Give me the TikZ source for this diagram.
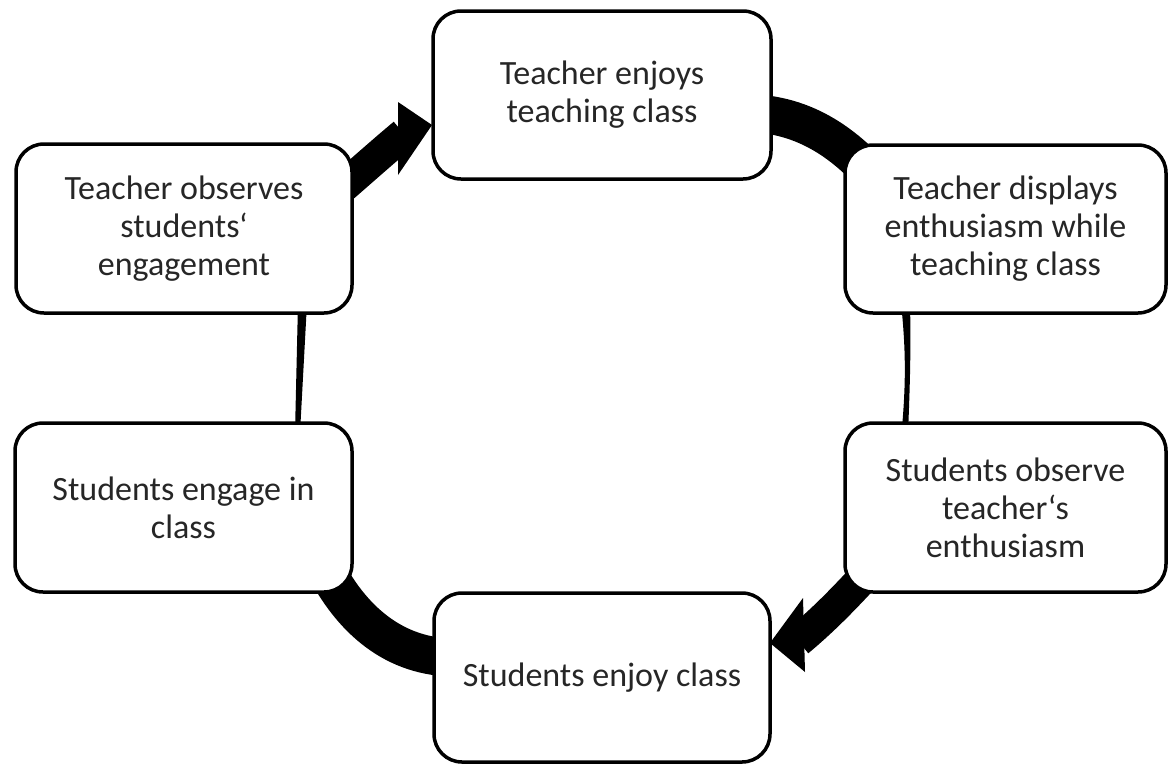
\documentclass[tikz,border=0pt]{standalone}
\usepackage{fontspec}
\setmainfont{Carlito}
\usetikzlibrary{backgrounds}
\definecolor{txt}{RGB}{38,38,38}
\begin{document}
\begin{tikzpicture}[x=1pt,y=-1pt,
  box/.style={draw=black, line width=3.5pt, fill=white, rounded corners=28pt,
    minimum height=168pt, align=center, inner sep=0pt, outer sep=0pt,
    font=\fontsize{34}{38}\selectfont, text=txt},
  band/.style={line width=38pt, draw=black},
  shaft/.style={line width=32pt, draw=black},
  arrowhead/.style={fill=black},
  thinlink/.style={fill=black}]
\useasboundingbox (0,0) rectangle (1168,764);

\node[box, minimum width=338pt] (top) at (602,95) {Teacher enjoys\\teaching class};
\node[box, minimum width=321pt] (ru) at (1005.5,229) {Teacher displays\\enthusiasm while\\teaching class};
\node[box, minimum width=321pt, minimum height=169pt] (rl) at (1005.5,507.5) {Students observe\\teacher‘s\\enthusiasm};
\node[box, minimum width=336pt, minimum height=169pt] (bot) at (602,677.5) {Students enjoy class};
\node[box, minimum width=337pt, minimum height=169pt] (ll) at (183.5,507.5) {Students engage in\\class};
\node[box, minimum width=336pt, minimum height=169pt] (lu) at (184,228.5) {Teacher observes\\students‘\\engagement};

\coordinate (ahA) at (404,134);
\coordinate (ahC) at (798,641);

\begin{pgfonlayer}{background}
  % lu -> top
  \draw[shaft] ([shift={(-22,-30.5)}]lu.east) .. controls (358,174) and (380,154) .. (ahA);
  \fill[arrowhead] ([shift={(-35,7)}]top.west) -- ([shift={(-1,30)}]top.west) -- ([shift={(-35,80)}]top.west) -- cycle;
  % top -> ru
  \draw[band] ([shift={(-30,18)}]top.east) .. controls (800,112) and (845,140) .. ([shift={(-120.5,-39)}]ru.center);
  % ru -> rl
  \fill[thinlink] ([shift={(-104.5,-10)}]ru.south) -- ([shift={(-95.5,-10)}]ru.south)
     .. controls (911,350) and (910,385) .. ([shift={(-97.5,10)}]rl.north)
     -- ([shift={(-104,10)}]rl.north) .. controls (906,385) and (906,350) .. cycle;
  % rl -> bot
  \draw[shaft] ([shift={(-130.5,57.5)}]rl.center) .. controls (850,592) and (828,616) .. (ahC);
  \fill[arrowhead] ([shift={(33,-79.5)}]bot.east) -- ([shift={(0,-34.5)}]bot.east) -- ([shift={(35,-5.5)}]bot.east) -- cycle;
  % bot -> ll
  \draw[band] ([shift={(-140,-20)}]bot.center) .. controls (400,660) and (355,625) .. ([shift={(141.5,60.5)}]ll.center);
  % ll -> lu
  \fill[thinlink] ([shift={(111.5,10)}]ll.north) -- ([shift={(116.5,10)}]ll.north)
     -- ([shift={(123,-10)}]lu.south) -- ([shift={(114,-10)}]lu.south) -- cycle;
\end{pgfonlayer}
\end{tikzpicture}
\end{document}
